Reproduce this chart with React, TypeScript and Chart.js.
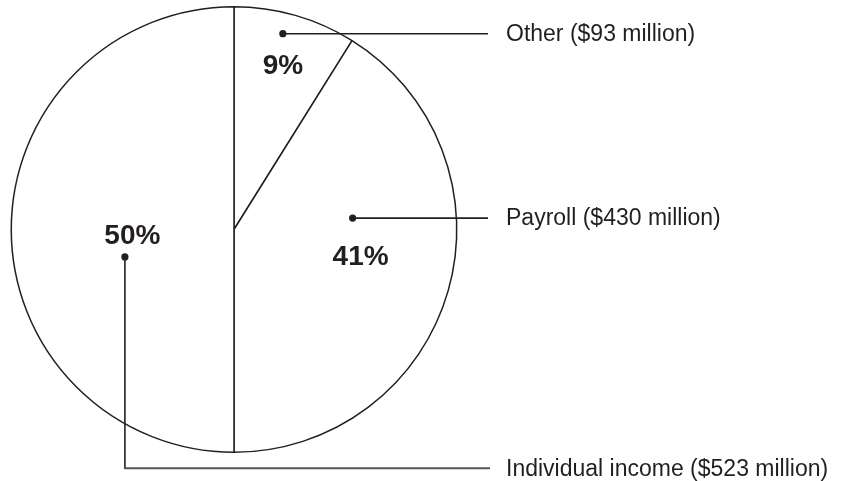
import React, { useEffect, useRef } from "react";
import { Chart, registerables } from "chart.js";

Chart.register(...registerables);

const categories = ["Other", "Payroll", "Individual income"];
const amounts = [93, 430, 523]; // $ million
const unit = "million";

// label placement relative to each slice (angle offset from slice mid in degrees, radius fractions)
const dotAngleOffset = [-2, -21.5, -14.1];
const dotRadiusFrac = [0.906, 0.535, 0.505];
const pctAngleOffset = [0.6, -4, -3.1];
const pctRadiusFrac = [0.768, 0.581, 0.457];

const INK = "#231f20";

const labelPlugin = {
  id: "pieLabels",
  afterDraw(chart: any) {
    const ctx = chart.ctx;
    const meta = chart.getDatasetMeta(0);
    const area = chart.chartArea;
    const total = amounts.reduce((a, b) => a + b, 0);
    const lineEndX = area.right + 30;
    const textX = area.right + 48;
    ctx.save();
    meta.data.forEach((arc: any, i: number) => {
      const { x, y, startAngle, endAngle, outerRadius } = arc.getProps(
        ["x", "y", "startAngle", "endAngle", "outerRadius"],
        true
      );
      const mid = (startAngle + endAngle) / 2;
      const da = (dotAngleOffset[i] * Math.PI) / 180;
      const pa = (pctAngleOffset[i] * Math.PI) / 180;
      const dx = x + Math.cos(mid + da) * outerRadius * dotRadiusFrac[i];
      const dy = y + Math.sin(mid + da) * outerRadius * dotRadiusFrac[i];
      const px = x + Math.cos(mid + pa) * outerRadius * pctRadiusFrac[i];
      const py = y + Math.sin(mid + pa) * outerRadius * pctRadiusFrac[i];

      // percentage
      const pct = Math.round((amounts[i] / total) * 100);
      ctx.fillStyle = INK;
      ctx.font = "bold 28px 'Liberation Sans', Arial, sans-serif";
      ctx.textAlign = "center";
      ctx.textBaseline = "middle";
      ctx.fillText(pct + "%", px, py + 1);

      // leader
      ctx.strokeStyle = INK;
      ctx.lineWidth = 1.6;
      let ly = dy;
      ctx.beginPath();
      if (dx < x - outerRadius * 0.2) {
        ly = y + outerRadius + 16;
        ctx.moveTo(dx, dy);
        ctx.lineTo(dx, ly);
        ctx.stroke();
        ctx.beginPath();
        ctx.strokeStyle = "#555";
        ctx.lineWidth = 2.2;
        ctx.moveTo(dx - 1, ly);
        ctx.lineTo(lineEndX + 2, ly);
        ctx.stroke();
      } else {
        ctx.moveTo(dx, dy);
        ctx.lineTo(lineEndX, dy);
        ctx.stroke();
      }
      ctx.beginPath();
      ctx.arc(dx, dy, 3.6, 0, Math.PI * 2);
      ctx.fillStyle = INK;
      ctx.fill();

      // text
      ctx.font = "23px 'Liberation Sans', Arial, sans-serif";
      ctx.textAlign = "left";
      ctx.textBaseline = "middle";
      ctx.fillText(`${categories[i]} ($${amounts[i]} ${unit})`, textX, ly + 1);
    });
    ctx.restore();
  },
};

export default function App() {
  const ref = useRef<HTMLCanvasElement | null>(null);
  useEffect(() => {
    if (!ref.current) return;
    const chart = new Chart(ref.current, {
      type: "pie",
      data: {
        labels: categories,
        datasets: [
          {
            data: amounts,
            backgroundColor: "#ffffff",
            borderColor: INK,
            borderWidth: 1.5,
            hoverOffset: 0,
          },
        ],
      },
      options: {
        animation: false,
        responsive: false,
        maintainAspectRatio: false,
        events: [],
        layout: { padding: { left: 10, right: 390, top: 6, bottom: 28 } },
        plugins: {
          legend: { display: false },
          tooltip: { enabled: false },
        },
      },
      plugins: [labelPlugin],
    });
    return () => chart.destroy();
  }, []);
  return (
    <div style={{ position: "fixed", left: 0, top: 0, width: 848, height: 481, background: "#fff" }}>
      <canvas ref={ref} width={848} height={481} style={{ width: 848, height: 481 }} />
    </div>
  );
}
